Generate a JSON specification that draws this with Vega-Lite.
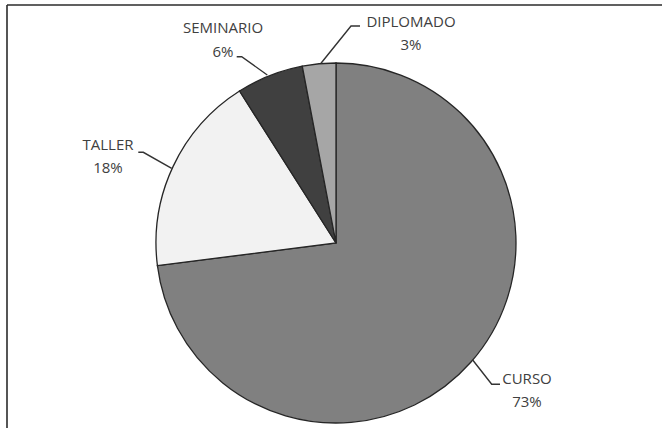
{
  "$schema": "https://vega.github.io/schema/vega-lite/v6.json",
  "width": 662,
  "height": 428,
  "padding": 0,
  "autosize": {"type": "none"},
  "background": "white",
  "config": {"view": {"stroke": null}},
  "datasets": {
    "slices": [
      {"cat": "CURSO", "v": 73, "idx": 1},
      {"cat": "TALLER", "v": 18, "idx": 2},
      {"cat": "SEMINARIO", "v": 6, "idx": 3},
      {"cat": "DIPLOMADO", "v": 3, "idx": 4}
    ],
    "labels": [
      {"name": "CURSO", "pct": "73%", "lx": 191, "ly1": -136, "ly2": -159},
      {"name": "TALLER", "pct": "18%", "lx": -228, "ly1": 98, "ly2": 75},
      {"name": "SEMINARIO", "pct": "6%", "lx": -113, "ly1": 214.7, "ly2": 191.3},
      {"name": "DIPLOMADO", "pct": "3%", "lx": 75, "ly1": 221.3, "ly2": 198}
    ],
    "leaders": [
      {"g": "CURSO", "s": 1, "px": 136.7, "py": -117},
      {"g": "CURSO", "s": 2, "px": 155.7, "py": -141.3},
      {"g": "CURSO", "s": 3, "px": 164, "py": -141.3},
      {"g": "TALLER", "s": 1, "px": -164.3, "py": 74.7},
      {"g": "TALLER", "s": 2, "px": -192.7, "py": 90.7},
      {"g": "TALLER", "s": 3, "px": -197.7, "py": 90.7},
      {"g": "SEMINARIO", "s": 1, "px": -68.7, "py": 168},
      {"g": "SEMINARIO", "s": 2, "px": -94.3, "py": 186.3},
      {"g": "SEMINARIO", "s": 3, "px": -99.3, "py": 186.3},
      {"g": "DIPLOMADO", "s": 1, "px": -15, "py": 179.7},
      {"g": "DIPLOMADO", "s": 2, "px": 15, "py": 217},
      {"g": "DIPLOMADO", "s": 3, "px": 24, "py": 217}
    ],
    "frame": [
      {"side": "top", "x1": -329, "x2": 326, "y1": 238, "y2": 238},
      {"side": "left", "x1": -329, "x2": -329, "y1": -185, "y2": 238}
    ]
  },
  "layer": [
    {
      "data": {"name": "frame"},
      "mark": {"type": "rule", "stroke": "#2b2b2b", "strokeWidth": 1.6},
      "encoding": {
        "x": {"field": "x1", "type": "quantitative", "scale": {"domain": [-336, 326], "nice": false, "zero": false}, "axis": null},
        "x2": {"field": "x2"},
        "y": {"field": "y1", "type": "quantitative", "scale": {"domain": [-185, 243], "nice": false, "zero": false}, "axis": null},
        "y2": {"field": "y2"}
      }
    },
    {
      "data": {"name": "slices"},
      "mark": {"type": "arc", "outerRadius": 180, "stroke": "#262626", "strokeWidth": 1.3},
      "encoding": {
        "x": {"datum": 0, "type": "quantitative", "scale": {"domain": [-336, 326], "nice": false, "zero": false}, "axis": null},
        "y": {"datum": 0, "type": "quantitative", "scale": {"domain": [-185, 243], "nice": false, "zero": false}, "axis": null},
        "theta": {"field": "v", "type": "quantitative", "stack": true},
        "order": {"field": "idx", "type": "quantitative"},
        "color": {
          "field": "cat",
          "type": "nominal",
          "scale": {"domain": ["CURSO", "TALLER", "SEMINARIO", "DIPLOMADO"], "range": ["#808080", "#f2f2f2", "#404040", "#a6a6a6"]},
          "legend": null
        }
      }
    },
    {
      "data": {"name": "leaders"},
      "mark": {"type": "line", "stroke": "#333333", "strokeWidth": 1.4},
      "encoding": {
        "x": {"field": "px", "type": "quantitative"},
        "y": {"field": "py", "type": "quantitative"},
        "detail": {"field": "g", "type": "nominal"},
        "order": {"field": "s", "type": "quantitative"}
      }
    },
    {
      "data": {"name": "labels"},
      "mark": {"type": "text", "font": "Open Sans", "fontSize": 15, "fill": "#404040", "align": "center", "baseline": "middle"},
      "encoding": {
        "x": {"field": "lx", "type": "quantitative"},
        "y": {"field": "ly1", "type": "quantitative"},
        "text": {"field": "name", "type": "nominal"}
      }
    },
    {
      "data": {"name": "labels"},
      "mark": {"type": "text", "font": "Open Sans", "fontSize": 15, "fill": "#404040", "align": "center", "baseline": "middle"},
      "encoding": {
        "x": {"field": "lx", "type": "quantitative"},
        "y": {"field": "ly2", "type": "quantitative"},
        "text": {"field": "pct", "type": "nominal"}
      }
    }
  ]
}
